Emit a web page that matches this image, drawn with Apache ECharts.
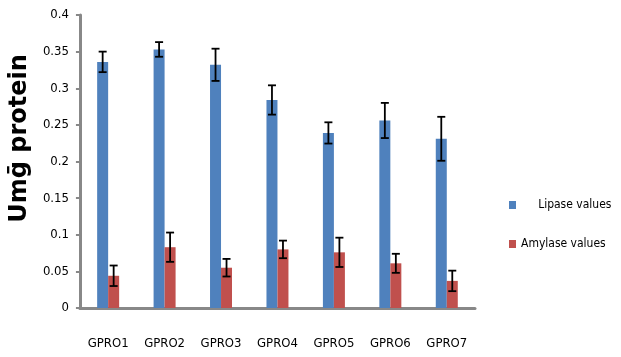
<!DOCTYPE html>
<html><head><meta charset="utf-8">
<script src="https://cdn.jsdelivr.net/npm/echarts@6/dist/echarts.min.js"></script>
<style>html,body{margin:0;padding:0;background:#fff}#c{width:621px;height:357px}</style>
</head><body><div id="c"></div>
<script>
const categories = ['GPRO1','GPRO2','GPRO3','GPRO4','GPRO5','GPRO6','GPRO7'];
const lipase = [0.336, 0.353, 0.332, 0.284, 0.239, 0.256, 0.231];
const lipaseErr = [0.014, 0.010, 0.022, 0.020, 0.0145, 0.024, 0.030];
const amylase = [0.044, 0.083, 0.055, 0.080, 0.076, 0.061, 0.037];
const amylaseErr = [0.014, 0.020, 0.012, 0.012, 0.020, 0.013, 0.014];
const yTicks = {min: 0, max: 0.4, interval: 0.05};

const FONT = "'DejaVu Sans Condensed','Liberation Sans',sans-serif";
const BW = 11;
function errSeries(vals, errs, offset){
  return {
    type: 'custom',
    z: 10,
    data: vals.map((v,i)=>[i, v, errs[i]]),
    renderItem: function(params, api){
      const i = api.value(0), v = api.value(1), e = api.value(2);
      const top = api.coord([i, v+e]);
      const bot = api.coord([i, v-e]);
      const x = top[0] + offset;
      const cap = 4;
      const st = {stroke:'#000', lineWidth:1.8};
      return {type:'group', children:[
        {type:'line', shape:{x1:x,y1:top[1],x2:x,y2:bot[1]}, style:st},
        {type:'line', shape:{x1:x-cap,y1:top[1],x2:x+cap,y2:top[1]}, style:st},
        {type:'line', shape:{x1:x-cap,y1:bot[1],x2:x+cap,y2:bot[1]}, style:st}
      ]};
    },
    silent: true,
    legendHoverLink: false
  };
}
const chart = echarts.init(document.getElementById('c'), null, {renderer:'canvas'});
chart.setOption({
  animation: false,
  grid: {left: 78, right: 146, top: 15, bottom: 49},
  legend: {
    orient: 'vertical', left: 504, top: 194, itemWidth: 7, itemHeight: 8, itemGap: 27,
    data: ['Lipase values','Amylase values'],
    icon: 'rect',
    formatter: n => n === 'Lipase values' ? '     ' + n : n,
    textStyle: {fontFamily: FONT, fontSize: 12, color: '#000'}
  },
  xAxis: {
    type: 'category', data: categories,
    axisLine: {lineStyle: {color: '#888', width: 3}},
    axisTick: {show: false},
    axisLabel: {fontFamily: FONT, fontSize: 13, color: '#000', margin: 29, interval: 0}
  },
  yAxis: {
    type: 'value', min: yTicks.min, max: yTicks.max, interval: yTicks.interval,
    name: 'Umḡ protein', nameLocation: 'middle', nameGap: 36, nameRotate: 90,
    nameTextStyle: {fontFamily: "'DejaVu Sans',sans-serif", fontSize: 24, fontWeight: 'bold', color: '#000', padding: [0,0,0,46]},
    axisLine: {show: true, lineStyle: {color: '#888', width: 3}},
    axisTick: {show: true, length: 4, lineStyle: {color: '#888', width: 2}},
    splitLine: {show: false},
    axisLabel: {fontFamily: FONT, fontSize: 13, color: '#000', margin: 11}
  },
  series: [
    {name:'Lipase values', type:'bar', data: lipase, barWidth: BW, barGap: '0%', itemStyle:{color:'#4F81BD'}},
    {name:'Amylase values', type:'bar', data: amylase, barWidth: BW, barGap: '0%', itemStyle:{color:'#C0504D'}},
    errSeries(lipase, lipaseErr, -BW/2),
    errSeries(amylase, amylaseErr, BW/2)
  ]
});
</script></body></html>
